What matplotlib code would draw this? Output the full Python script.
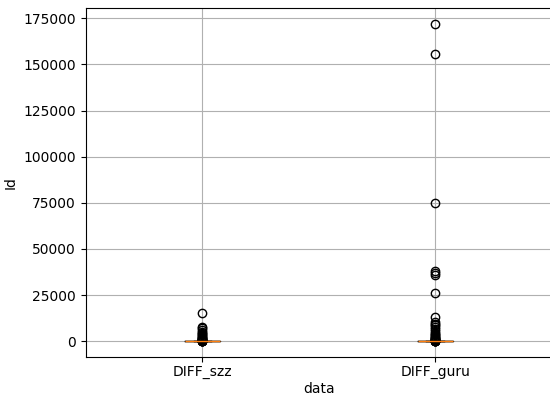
import matplotlib
matplotlib.use("Agg")
import matplotlib.pyplot as plt

labels = ["DIFF_szz", "DIFF_guru"]

# Bulk of small Id differences, shared shape for both methods
core_values = [0, 1, 2, 3, 4, 5, 6, 8, 10, 12, 15, 20]
core_counts = [40, 20, 14, 10, 8, 6, 5, 4, 3, 3, 2, 2]

# Large differences (tail) per method
tail_szz = [40, 60, 90, 130, 180, 250, 350, 500, 700, 900, 1200, 1500,
            1900, 2300, 2800, 3300, 3900, 4500, 5200, 6000, 7000, 7800, 15000]
tail_guru = [40, 60, 90, 130, 180, 250, 350, 500, 700, 900, 1200, 1500,
             1900, 2300, 2800, 3300, 3900, 4600, 5500, 6500, 7500, 8500,
             9500, 10500, 13000, 26000, 36000, 37000, 38000, 75000,
             155500, 172000]

core = [v for v, c in zip(core_values, core_counts) for _ in range(c)]
diff_szz = core + tail_szz
diff_guru = core + tail_guru

fig, ax = plt.subplots(figsize=(5.5, 3.98), dpi=100)
ax.boxplot([diff_szz, diff_guru], tick_labels=labels)
ax.grid(True)
ax.set_xlabel("data", labelpad=2)
ax.set_ylabel("Id")
ax.tick_params(axis="x", pad=2.5)
fig.subplots_adjust(left=0.156, right=1.003, top=0.98, bottom=0.103)
fig.savefig("out.png", dpi=100)
